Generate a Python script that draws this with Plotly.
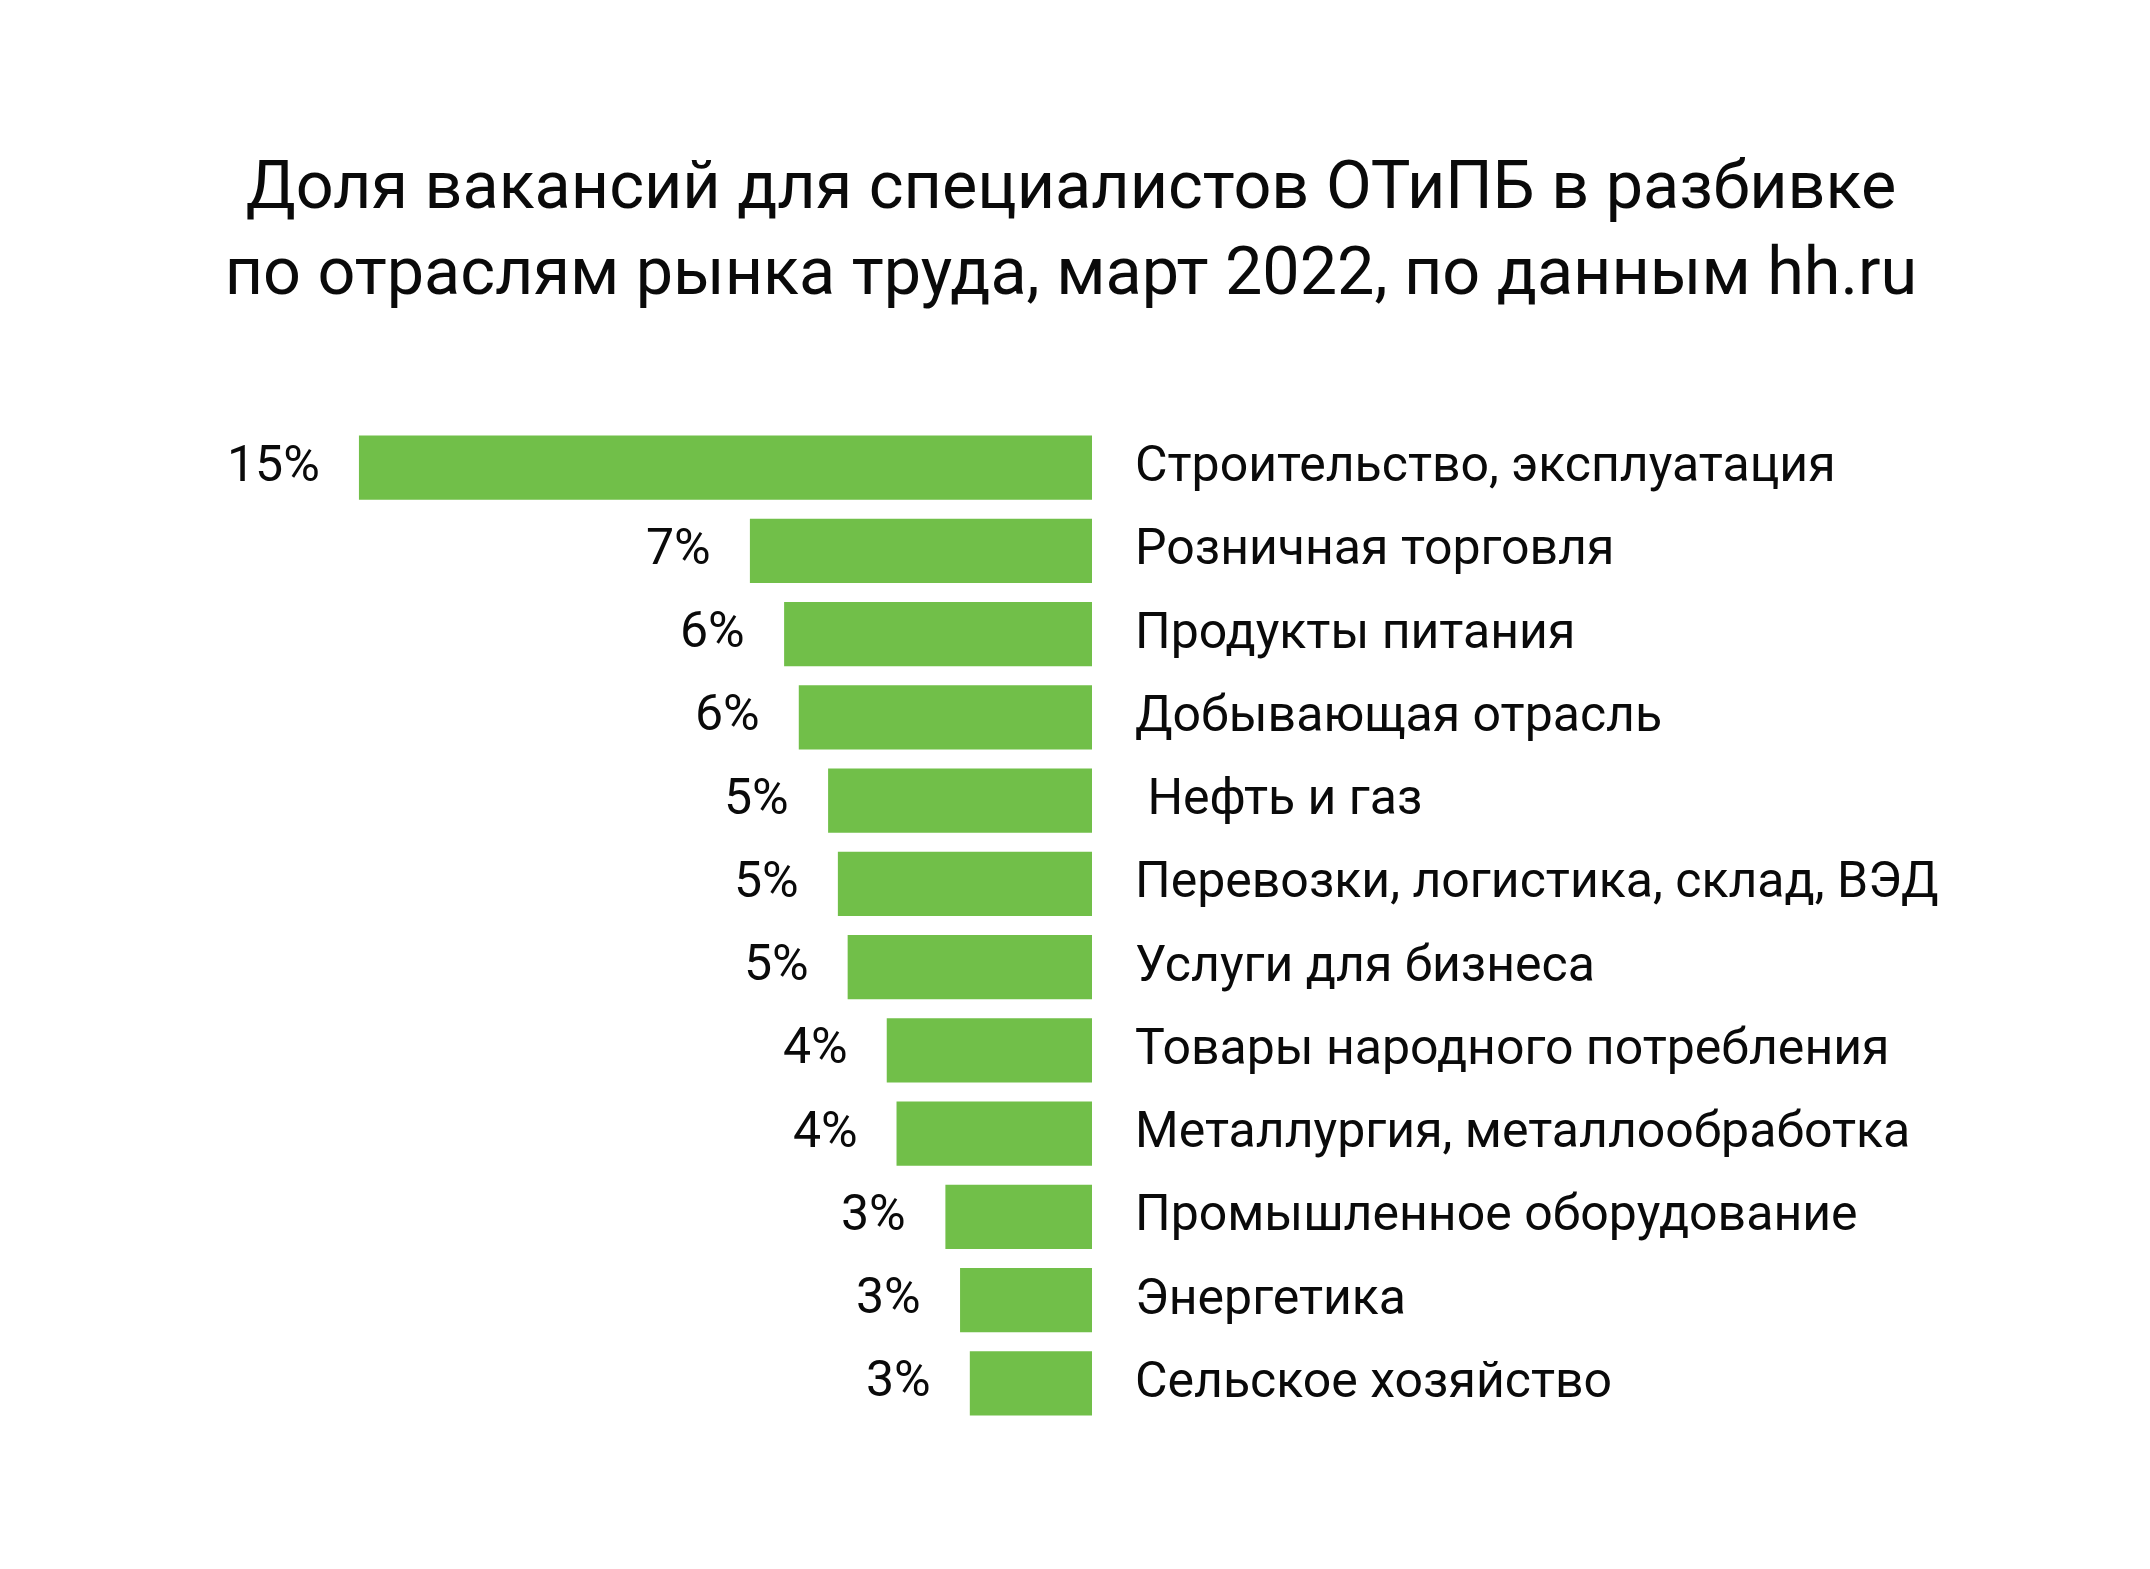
import plotly.graph_objects as go

categories = [
    "Строительство, эксплуатация",
    "Розничная торговля",
    "Продукты питания",
    "Добывающая отрасль",
    "\u00a0Нефть и газ",
    "Перевозки, логистика, склад, ВЭД",
    "Услуги для бизнеса",
    "Товары народного потребления",
    "Металлургия, металлообработка",
    "Промышленное оборудование",
    "Энергетика",
    "Сельское хозяйство",
]
values = [15.0, 7.0, 6.3, 6.0, 5.4, 5.2, 5.0, 4.2, 4.0, 3.0, 2.7, 2.5]
value_labels = ["15%", "7%", "6%", "6%", "5%", "5%", "5%", "4%", "4%", "3%", "3%", "3%"]

title_text = ("Доля вакансий для специалистов ОТиПБ в разбивке<br>"
              "по отраслям рынка труда, март 2022, по данным hh.ru")

GREEN = "#71BF49"
FONT = "Roboto, 'Open Sans', sans-serif"
TEXT = "#0a0a0a"

fig = go.Figure()
fig.add_trace(go.Bar(
    x=values,
    y=categories,
    orientation="h",
    marker=dict(color=GREEN, line=dict(width=0)),
    hoverinfo="skip",
))

for v, c, t in zip(values, categories, value_labels):
    fig.add_annotation(
        x=v, y=c, xref="x", yref="y",
        text=t, showarrow=False,
        xanchor="right", yanchor="middle",
        xshift=-37, yshift=4,
        font=dict(family=FONT, size=50, color=TEXT),
    )

fig.update_layout(
    width=2150, height=1569,
    paper_bgcolor="white", plot_bgcolor="white",
    margin=dict(l=292, r=1066, t=418, b=152),
    bargap=0.228,
    showlegend=False,
    title=dict(
        text=title_text,
        x=0.4944, xanchor="center",
        y=1 - 200 / 1569, yanchor="top", yref="container",
        font=dict(family=FONT, size=66.5, color=TEXT),
    ),
    xaxis=dict(
        range=[16.206, 0],
        visible=False,
        showgrid=False, zeroline=False,
    ),
    yaxis=dict(
        side="right",
        autorange="reversed",
        showgrid=False, zeroline=False, showline=False,
        ticks="",
        ticklabelstandoff=42,
        ticklabelshift=4,
        tickfont=dict(family=FONT, size=50, color=TEXT),
    ),
)

fig.write_html("out.html")
